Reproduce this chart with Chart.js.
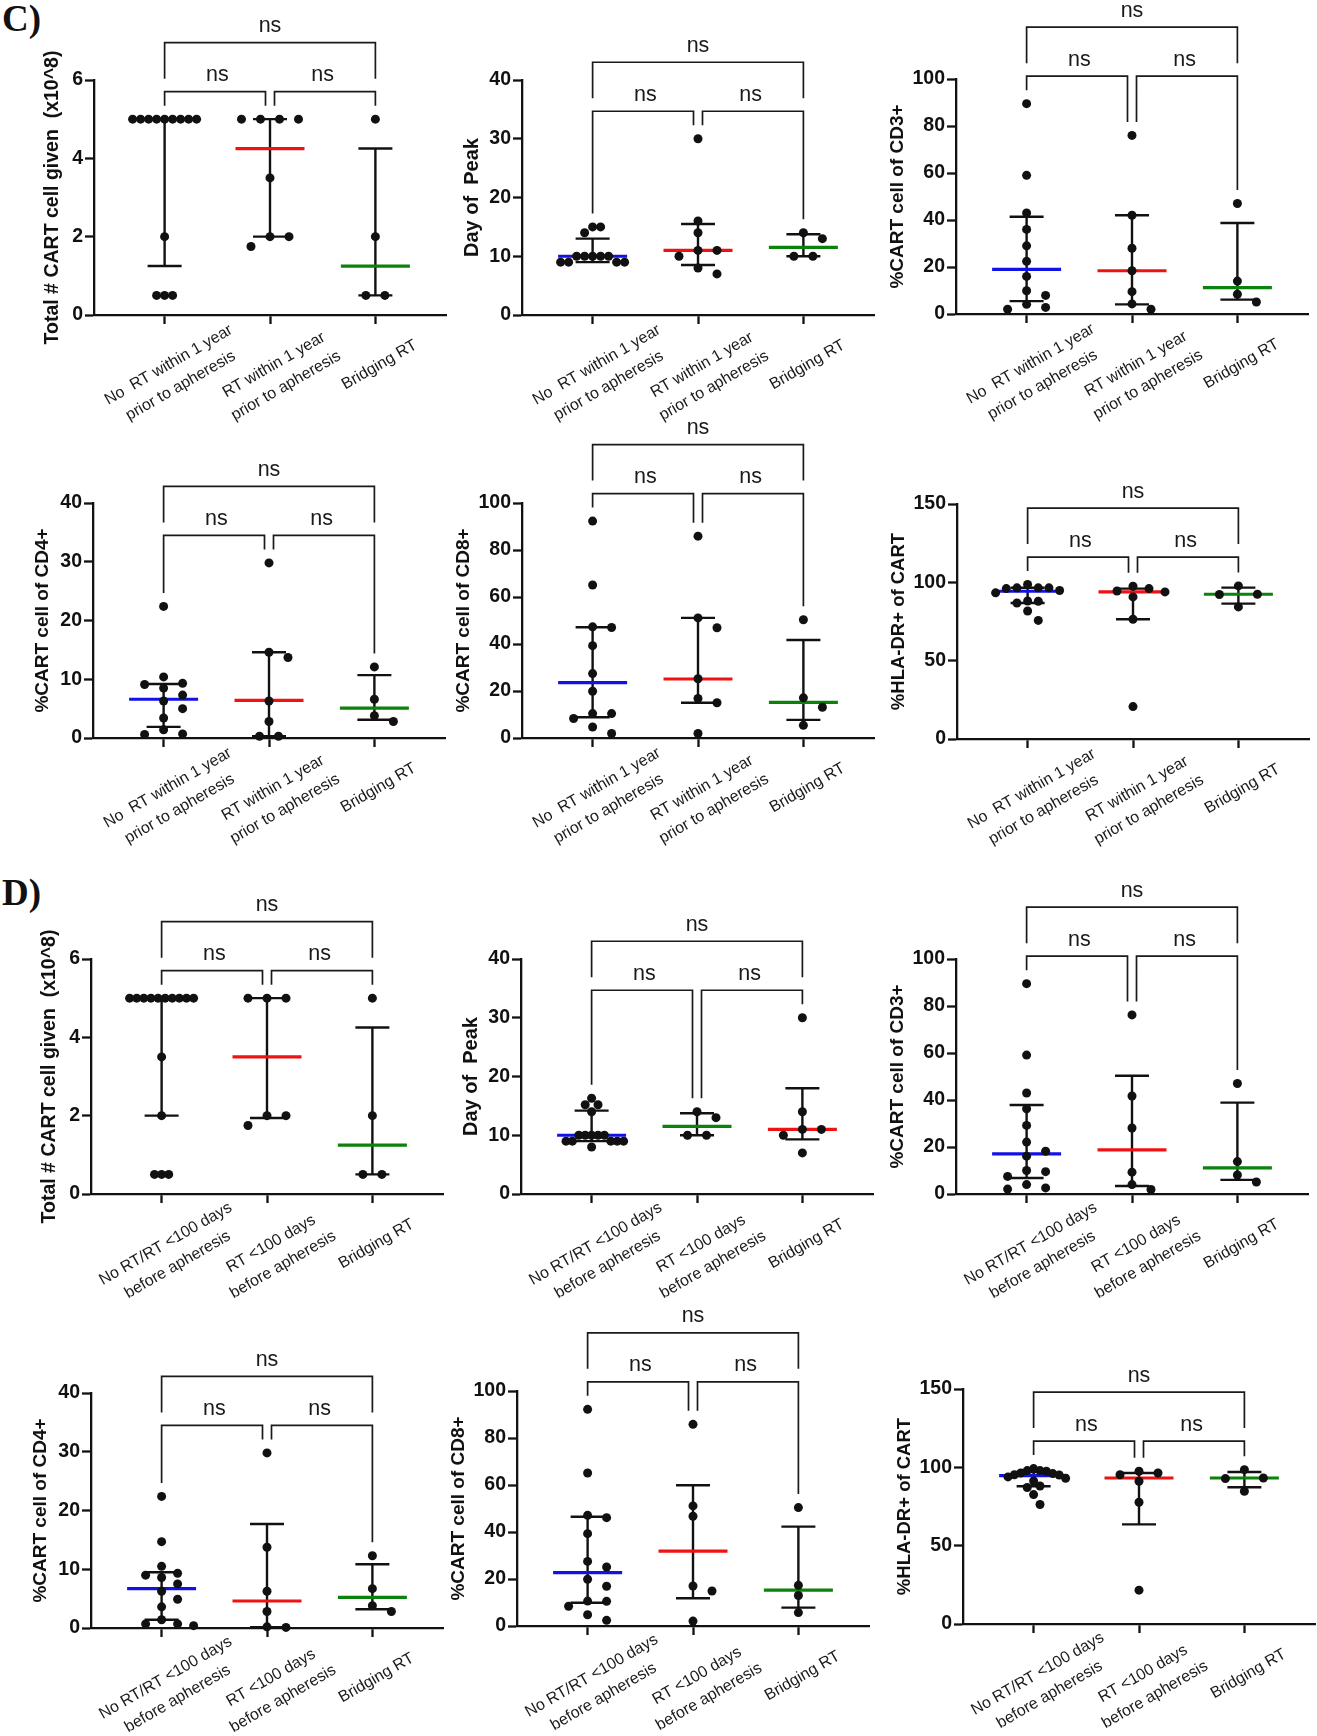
<!DOCTYPE html>
<html>
<head>
<meta charset="utf-8">
<script src="https://cdn.jsdelivr.net/npm/chart.js@4.4.0/dist/chart.umd.min.js"></script>
<style>
body { margin:0; background:#fff; width:1317px; height:1736px; position:relative; overflow:hidden; }
canvas { position:absolute; }
.tag { position:absolute; font:bold 37px "Liberation Serif", serif; line-height:1; color:#111; }
</style>
</head>
<body>
<div class="tag" style="left:2px;top:0px">C)</div>
<div class="tag" style="left:2px;top:874px">D)</div>
<script>
// categories
const catsC = [["No  RT within 1 year", "prior to apheresis"], ["RT within 1 year", "prior to apheresis"], ["Bridging RT"]]
const catsD = [["No RT/RT <100 days", "before apheresis"], ["RT <100 days", "before apheresis"], ["Bridging RT"]]

// y tick labels
const yTicksTotal = [0, 2, 4, 6]
const yTicksDay = [0, 10, 20, 30, 40]
const yTicks40 = [0, 10, 20, 30, 40]
const yTicks100 = [0, 20, 40, 60, 80, 100]
const yTicksHla = [0, 50, 100, 150]

// C) points per group, median and interquartile range
const cTotalPts = [[5,5,5,5,5,5,5,5,5,2,0.5,0.5,0.5], [5,5,5,5,3.5,2,2,1.75], [5,2,0.5,0.5]]
const cTotalMed = [5, 4.25, 1.25]
const cTotalQ1 = [1.25, 2, 0.5]
const cTotalQ3 = [5, 5, 4.25]

const cDayPts = [[15,15,14,10,10,10,10,10,9,9,9,9], [30,16,14,11,11,10,8,7], [14,13,10,10]]
const cDayMed = [10, 11, 11.5]
const cDayQ1 = [9, 8.5, 10]
const cDayQ3 = [13, 15.5, 13.75]

const cCd3Pts = [[89.5,59,43,36,29,22.4,16,9.9,7.9,4.1,2.8,2.0], [76,42,28,18.4,9.5,4.3,2.0], [47,14,8.4,5.1]]
const cCd3Med = [19, 18.4, 11.2]
const cCd3Q1 = [5.5, 4.1, 6.1]
const cCd3Q3 = [41.4, 42, 38.7]

const cCd4Pts = [[22.4,10.4,9.3,9.1,8.5,7.3,6.3,5.0,3.4,1.4,0.7,0.6], [29.8,14.6,13.7,6.3,2.8,0.3,0.3], [12.1,6.6,3.8,2.8]]
const cCd4Med = [6.6, 6.4, 5.1]
const cCd4Q1 = [1.9, 0.3, 3.1]
const cCd4Q3 = [9.2, 14.6, 10.7]

const cCd8Pts = [[92.3,65.1,47.3,47.0,39.3,27.4,19.9,10.4,10.4,8.3,4.7,1.9], [85.9,51.1,46.9,25.2,16.8,15.0,1.9], [50.3,17.1,13.1,5.4]]
const cCd8Med = [23.6, 25.1, 15.2]
const cCd8Q1 = [8.8, 15, 7.7]
const cCd8Q3 = [47.1, 51.1, 41.7]

const cHlaPts = [[98.6,96.5,96.5,96.5,96.0,94.8,93.3,88.1,87.9,86.8,81.7,75.7], [97.5,96.0,94.5,93.9,90.7,76.4,20.7], [97.7,92.4,92.2,84.3]]
const cHlaMed = [94.3, 93.9, 92.4]
const cHlaQ1 = [86.8, 76.4, 86.4]
const cHlaQ3 = [96.5, 96, 96.6]

// D)
const dTotalPts = [[5,5,5,5,5,5,5,5,5,5,3.5,2,0.5,0.5,0.5], [5,5,5,2,2,1.75], [5,2,0.5,0.5]]
const dTotalMed = [5, 3.5, 1.25]
const dTotalQ1 = [2, 1.94, 0.5]
const dTotalQ3 = [5, 5, 4.25]

const dDayPts = [[16.3,15.2,15.2,14,10,10,10,10,10,9,9,9,9,9,8], [14,13,10,10], [30,14,11,11,10,7]]
const dDayMed = [10, 11.5, 11]
const dDayQ1 = [9, 10, 9.3]
const dDayQ3 = [14.2, 13.75, 18]

const dCd3Pts = [[89.5,59.1,43,36.3,29.2,22.1,18.2,16.1,10,9.5,7.5,4,2.6,2.1], [76.2,41.7,28.1,9.3,4,1.9], [47,13.8,8.1,5.1]]
const dCd3Med = [17.1, 18.8, 11.1]
const dCd3Q1 = [6.8, 3.4, 6]
const dCd3Q3 = [37.9, 50.3, 38.9]

const dCd4Pts = [[22.4,14.7,10.5,9.3,9.0,8.6,7.5,6.25,4.9,3.6,1.4,0.7,0.7,0.4], [29.8,13.75,6.25,2.8,0.2,0.1], [12.3,6.7,3.8,2.8]]
const dCd4Med = [6.7, 4.6, 5.2]
const dCd4Q1 = [1.4, 0.15, 3.2]
const dCd4Q3 = [9.5, 17.7, 10.85]

const dCd8Pts = [[92.2,65.1,47.1,46.1,39.3,27.5,25.1,19.9,16.9,10.6,10.5,8.4,4.8,2.4], [85.8,51.1,46.7,17,14.9,2.1], [50.4,17.3,13,5.7]]
const dCd8Med = [22.7, 31.9, 15.3]
const dCd8Q1 = [9.9, 11.8, 7.8]
const dCd8Q3 = [46.5, 59.9, 42.3]

const dHlaPts = [[99.2,97.9,97.9,97.5,96.4,96.0,95.3,95.1,93.9,93,91.3,88.1,87.1,82.6,76.3], [97.5,96.4,95.3,91.1,77.7,21.6], [98.5,93.2,92.8,84.7]]
const dHlaMed = [94.7, 93.2, 93.2]
const dHlaQ1 = [87.9, 63.6, 87.3]
const dHlaQ3 = [97, 96.4, 97]

const FONT = 'Liberation Sans'
const BLUE = '#1212e6', RED = '#ef1212', GREEN = '#0b820b', INK = '#111'
const YW = 100, PAD_TOP = 90, PLOT_W = 352, PLOT_H = 235, XH = 125, PAD_R = 6
const TICK_PX = 19.5

// where each plot's top-left axis corner sits on the page
const panels = [
  {at:[94,80],    pts:cTotalPts, med:cTotalMed, q1:cTotalQ1, q3:cTotalQ3, ticks:yTicksTotal, title:'Total # CART cell given  (x10^8)', tsize:19.5, cats:catsC, colors:[BLUE,RED,GREEN]},
  {at:[522,80],   pts:cDayPts,   med:cDayMed,   q1:cDayQ1,   q3:cDayQ3,   ticks:yTicksDay,   title:'Day of  Peak',        tsize:20, cats:catsC, colors:[BLUE,RED,GREEN]},
  {at:[956,79],   pts:cCd3Pts,   med:cCd3Med,   q1:cCd3Q1,   q3:cCd3Q3,   ticks:yTicks100,   title:'%CART cell of CD3+',  tsize:19, cats:catsC, colors:[BLUE,RED,GREEN]},
  {at:[93,503],   pts:cCd4Pts,   med:cCd4Med,   q1:cCd4Q1,   q3:cCd4Q3,   ticks:yTicks40,    title:'%CART cell of CD4+',  tsize:19, cats:catsC, colors:[BLUE,RED,GREEN]},
  {at:[522,503],  pts:cCd8Pts,   med:cCd8Med,   q1:cCd8Q1,   q3:cCd8Q3,   ticks:yTicks100,   title:'%CART cell of CD8+',  tsize:19, cats:catsC, colors:[BLUE,RED,GREEN]},
  {at:[957,504],  pts:cHlaPts,   med:cHlaMed,   q1:cHlaQ1,   q3:cHlaQ3,   ticks:yTicksHla,   title:'%HLA-DR+ of CART',    tsize:18.5, cats:catsC, colors:[BLUE,RED,GREEN]},
  {at:[91,959],   pts:dTotalPts, med:dTotalMed, q1:dTotalQ1, q3:dTotalQ3, ticks:yTicksTotal, title:'Total # CART cell given  (x10^8)', tsize:19.5, cats:catsD, colors:[BLUE,RED,GREEN]},
  {at:[521,959],  pts:dDayPts,   med:dDayMed,   q1:dDayQ1,   q3:dDayQ3,   ticks:yTicksDay,   title:'Day of  Peak',        tsize:20, cats:catsD, colors:[BLUE,GREEN,RED]},
  {at:[956,959],  pts:dCd3Pts,   med:dCd3Med,   q1:dCd3Q1,   q3:dCd3Q3,   ticks:yTicks100,   title:'%CART cell of CD3+',  tsize:19, cats:catsD, colors:[BLUE,RED,GREEN]},
  {at:[91,1393],  pts:dCd4Pts,   med:dCd4Med,   q1:dCd4Q1,   q3:dCd4Q3,   ticks:yTicks40,    title:'%CART cell of CD4+',  tsize:19, cats:catsD, colors:[BLUE,RED,GREEN]},
  {at:[517,1391], pts:dCd8Pts,   med:dCd8Med,   q1:dCd8Q1,   q3:dCd8Q3,   ticks:yTicks100,   title:'%CART cell of CD8+',  tsize:19, cats:catsD, colors:[BLUE,RED,GREEN]},
  {at:[963,1389], pts:dHlaPts,   med:dHlaMed,   q1:dHlaQ1,   q3:dHlaQ3,   ticks:yTicksHla,   title:'%HLA-DR+ of CART',    tsize:18.5, cats:catsD, colors:[BLUE,RED,GREEN]},
]

const measure = document.createElement('canvas').getContext('2d')
measure.font = 'bold ' + TICK_PX + 'px "' + FONT + '"'

// column scatter: top value first, each point takes the column nearest the middle
// that has no neighbour closer than rowH pixels, columns squeezed if the row gets wide
function swarm(vals, yPix, rowH, maxHalf, maxStep) {
  const order = vals.map((v, i) => i).sort((a, b) => vals[b] - vals[a])
  const cols = {}
  const colOf = []
  order.forEach(i => {
    const y = yPix(vals[i])
    for (let k = 0; ; k++) {
      const c = k === 0 ? 0 : (k % 2 ? (k + 1) / 2 : -k / 2)
      const list = cols[c] || (cols[c] = [])
      if (list.every(py => Math.abs(py - y) >= rowH)) { list.push(y); colOf[i] = c; break }
    }
  })
  // an even row of equal values sits centred
  const counts = {}
  vals.forEach(v => { counts[v] = (counts[v] || 0) + 1 })
  Object.keys(counts).forEach(key => {
    const v = +key, n = counts[key]
    if (n < 2 || n % 2) return
    const yv = yPix(v)
    if (vals.some(w => w !== v && Math.abs(yPix(w) - yv) < rowH)) return
    vals.forEach((w, i) => { if (w === v) colOf[i] -= 0.5 })
  })
  const widest = Math.max(...colOf.map(Math.abs))
  const step = widest ? Math.min(maxStep, maxHalf / widest) : 0
  return colOf.map(c => c * step)
}

function line(ctx, x1, y1, x2, y2) {
  ctx.beginPath(); ctx.moveTo(x1, y1); ctx.lineTo(x2, y2); ctx.stroke()
}

function panelPlugin(p) {
  return {
    id: 'panelExtras',
    beforeDatasetsDraw(chart) {
      const {ctx, scales: {x, y}} = chart
      ctx.save()
      p.med.forEach((m, g) => {
        const cx = x.getPixelForValue(g + 1)
        const yl = y.getPixelForValue(p.q1[g]), yh = y.getPixelForValue(p.q3[g])
        ctx.strokeStyle = INK; ctx.lineWidth = 2.4
        line(ctx, cx, yl, cx, yh)
        line(ctx, cx - 17, yl, cx + 17, yl)
        line(ctx, cx - 17, yh, cx + 17, yh)
        ctx.strokeStyle = p.colors[g]; ctx.lineWidth = 3.2
        const ym = y.getPixelForValue(m)
        line(ctx, cx - 34.5, ym, cx + 34.5, ym)
      })
      ctx.restore()
    },
    afterDraw(chart) {
      const {ctx, scales: {x, y}} = chart
      const c = [1, 2, 3].map(v => x.getPixelForValue(v))
      const allMax = Math.max(...p.pts.flat())
      const L = y.getPixelForValue(allMax) - 27.5
      const T = L - 49
      const leg = p.pts.map(v => y.getPixelForValue(Math.max(...v)) - 13.5)
      ctx.save()
      ctx.strokeStyle = '#1a1a1a'; ctx.lineWidth = 1.7; ctx.lineJoin = 'miter'
      ctx.beginPath()
      ctx.moveTo(c[0], leg[0]); ctx.lineTo(c[0], L); ctx.lineTo(c[1] - 4.5, L); ctx.lineTo(c[1] - 4.5, leg[1])
      ctx.moveTo(c[1] + 4.5, leg[1]); ctx.lineTo(c[1] + 4.5, L); ctx.lineTo(c[2], L); ctx.lineTo(c[2], leg[2])
      ctx.moveTo(c[0], L - 13); ctx.lineTo(c[0], T); ctx.lineTo(c[2], T); ctx.lineTo(c[2], L - 13)
      ctx.stroke()
      ctx.fillStyle = '#1a1a1a'
      ctx.font = '21.5px "' + FONT + '"'
      ctx.textAlign = 'center'; ctx.textBaseline = 'alphabetic'
      ctx.fillText('ns', (c[0] + c[1]) / 2, L - 10.5)
      ctx.fillText('ns', (c[1] + c[2]) / 2, L - 10.5)
      ctx.fillText('ns', (c[0] + c[2]) / 2, T - 10.5)

      // slanted category labels, each line centred
      ctx.font = '16px "' + FONT + '"'
      ctx.textBaseline = 'middle'
      p.cats.forEach((lines, g) => {
        ctx.save()
        ctx.translate(c[g] + 4, x.top + 50)
        ctx.rotate(-Math.PI / 6)
        lines.forEach((s, j) => ctx.fillText(s, 0, j * 24))
        ctx.restore()
      })
      ctx.restore()
    }
  }
}

panels.forEach(p => {
  const cv = document.createElement('canvas')
  cv.width = YW + PLOT_W + PAD_R
  cv.height = PAD_TOP + PLOT_H + XH
  cv.style.left = (p.at[0] - YW) + 'px'
  cv.style.top = (p.at[1] - PAD_TOP) + 'px'
  document.body.appendChild(cv)

  // title sits a fixed gap beyond the widest tick label
  const labelW = Math.max(...p.ticks.map(t => measure.measureText(String(t)).width))
  const titlePad = YW - (32.4 + 0.8 * labelW) - p.tsize * 0.6

  const axisLook = {
    grid: {display: true, drawOnChartArea: false, drawTicks: true, tickLength: 9, tickWidth: 2.3, tickColor: INK},
    border: {display: true, color: INK, width: 2.3}
  }

  const chart = new Chart(cv, {
    type: 'scatter',
    data: {
      datasets: p.pts.map((vals, g) => ({
        data: vals.map(v => ({x: g + 1, y: v})),
        pointRadius: 4.5,
        pointHoverRadius: 4.5,
        backgroundColor: INK,
        borderWidth: 0,
        clip: false
      }))
    },
    options: {
      responsive: false,
      animation: false,
      events: [],
      layout: {padding: {top: PAD_TOP, right: PAD_R, left: 0, bottom: 0}, autoPadding: false},
      plugins: {legend: {display: false}, tooltip: {enabled: false}},
      scales: {
        x: {
          type: 'linear', min: 0.33, max: 3.67,
          afterBuildTicks: s => { s.ticks = [1, 2, 3].map(v => ({value: v})) },
          afterFit: s => { s.height = XH },
          ticks: {display: false},
          ...axisLook
        },
        y: {
          type: 'linear', min: 0, max: p.ticks[p.ticks.length - 1],
          afterBuildTicks: s => { s.ticks = p.ticks.map(v => ({value: v})) },
          afterFit: s => { s.width = YW },
          ticks: {font: {family: FONT, weight: 'bold', size: TICK_PX}, color: INK, padding: 2},
          title: {display: true, text: p.title, color: INK, font: {family: FONT, weight: 'bold', size: p.tsize}, padding: {top: titlePad, bottom: 0}},
          ...axisLook
        }
      }
    },
    plugins: [panelPlugin(p)]
  })

  // spread the points sideways now that the scales exist
  const xs = chart.scales.x, ys = chart.scales.y
  const ppu = (xs.right - xs.left) / (xs.max - xs.min)
  p.pts.forEach((vals, g) => {
    const off = swarm(vals, v => ys.getPixelForValue(v), 10, 32, 19)
    chart.data.datasets[g].data = vals.map((v, i) => ({x: g + 1 + off[i] / ppu, y: v}))
  })
  chart.update('none')
})
</script>
</body>
</html>
